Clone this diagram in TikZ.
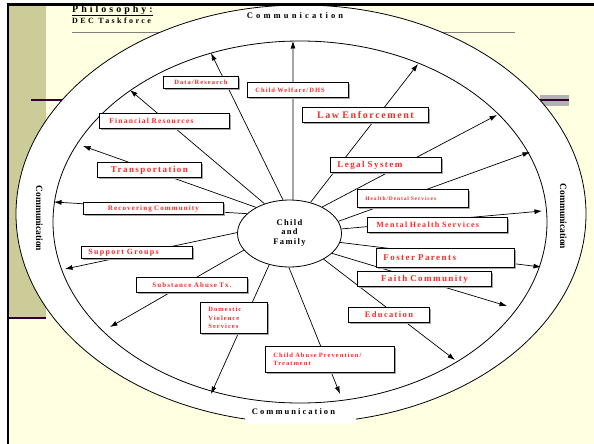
\documentclass[tikz,border=0pt]{standalone}
\usepackage{fontspec}
\setmainfont{Liberation Serif}
\newfontfamily\spacedfont[LetterSpace=16]{Liberation Serif}
\newfontfamily\widefont[LetterSpace=30]{Liberation Serif}
\usetikzlibrary{arrows.meta,shapes.geometric,shadows}
\definecolor{slideyellow}{RGB}{255,255,225}
\definecolor{khaki}{RGB}{204,204,153}
\definecolor{plum}{RGB}{51,0,51}
\definecolor{boxred}{RGB}{255,40,40}
\pgfdeclarelayer{back}
\pgfdeclarelayer{spokes}
\pgfsetlayers{back,spokes,main}
\tikzset{
	box/.style={draw,line width=0.8pt,fill=white,anchor=north west,inner ysep=0pt,align=left,text=boxred,
		drop shadow={shadow xshift=1.5pt,shadow yshift=-1.5pt,fill=black!35,opacity=1},
		font=\spacedfont\bfseries\fontsize{#1}{8.3}\selectfont},
	spoke/.style={line width=0.7pt,-{Latex[length=7.5pt,width=5pt]}},
	comm/.style={inner sep=0pt,font=\bfseries\fontsize{8.5}{10}\selectfont}
}
\begin{document}
\begin{tikzpicture}[x=1pt,y=-1pt]
	\useasboundingbox (0,0) rectangle (594,444);
	% slide background
	\begin{pgfonlayer}{back}
		\fill[white] (0,0) rectangle (594,444);
		\fill[slideyellow] (8,5) rectangle (594,444);
		\fill[khaki] (9,6) rectangle (46,318);
		\draw[plum,line width=2.5pt] (7,318) -- (46,318);
		\draw[plum,line width=2pt] (31,100) -- (62,100);
		\fill[black!30] (540,95) rectangle (569,106);
		\draw[plum,line width=2pt] (540,100) -- (569,100);
		\draw[black!50,line width=0.8pt] (72,32) -- (515,32);
		\draw[line width=0.8pt,fill=white] (301,214) ellipse [x radius=285, y radius=209];
		\draw[line width=0.8pt] (300,222) ellipse [x radius=247, y radius=181];
		\fill[white] (245,405) rectangle (356,424);
		\draw[line width=2.5pt] (7.8,444) |- (594,4.5);
	\end{pgfonlayer}

	\node[anchor=base west,inner sep=0pt,font=\widefont\bfseries\fontsize{10}{12}\selectfont] (title) at (72,13) {Philosophy:};
	\draw[line width=1.1pt] ([yshift=-2.3pt]title.base west) -- ([yshift=-2.3pt]title.base east);
	\node[anchor=base west,inner sep=0pt,font=\widefont\bfseries\fontsize{8}{10}\selectfont] (subtitle) at (72,24) {DEC Taskforce};

	\node[comm,anchor=base] (commtop) at (295,18.5) {\addfontfeatures{LetterSpace=37}Communication};
	\node[comm,anchor=base] (commbottom) at (293.5,414.5) {\addfontfeatures{LetterSpace=24}Communication};
	\node[comm,anchor=base,rotate=-90,font=\bfseries\fontsize{9.5}{11}\selectfont] (commleft) at (36,218.5) {Communication};
	\node[comm,anchor=base,rotate=-90,font=\bfseries\fontsize{9.5}{11}\selectfont] (commright) at (560,216.5) {Communication};

	\node[ellipse,draw,line width=0.8pt,fill=white,minimum width=104pt,minimum height=67pt,inner sep=0pt,align=center,
		font=\spacedfont\bfseries\fontsize{8.5}{9.5}\selectfont] (child) at (289.5,233.5) {\raisebox{3pt}{Child}\\\raisebox{3pt}{and}\\\raisebox{3pt}{Family}};

	\node[box=6.5,text width=67pt,inner xsep=4pt,minimum height=12pt,align=center] (data) at (163,76) {Data/Research};
	\node[box=6.5,text width=85pt,inner xsep=8pt,minimum height=15pt] (welfare) at (247,82) {Child Welfare/DHS};
	\node[box=7.5,text width=110pt,inner xsep=10pt,minimum height=15pt] (finance) at (99,113) {Financial Resources};
	\node[box=10,text width=118pt,inner xsep=4pt,minimum height=15pt,align=center] (law) at (302,107) {Law Enforcement};
	\node[box=9,text width=97pt,inner xsep=7pt,minimum height=15pt] (legal) at (330,157) {Legal System};
	\node[box=9,text width=96pt,inner xsep=4pt,minimum height=15pt,align=center] (transport) at (97,162) {Transportation};
	\node[box=7,text width=132pt,inner xsep=4pt,minimum height=12pt,align=center] (recovery) at (83,202) {Recovering Community};
	\node[box=5.5,text width=95pt,inner xsep=8pt,minimum height=18pt] (health) at (357,189) {Health/Dental Services};
	\node[box=8,text width=122pt,inner xsep=9pt,minimum height=15pt] (mental) at (367,217) {Mental Health Services};
	\node[box=8,text width=97pt,inner xsep=7pt,minimum height=12pt] (support) at (81,246) {Support Groups};
	\node[box=9,text width=124pt,inner xsep=7pt,minimum height=19pt] (foster) at (376,248) {Foster Parents};
	\node[box=9,text width=126pt,inner xsep=4pt,minimum height=15pt,align=center] (faith) at (357,271) {Faith Community};
	\node[box=7,text width=103pt,inner xsep=4pt,minimum height=15pt,align=center] (substance) at (136,277) {Substance Abuse Tx.};
	\node[box=6.5,text width=51pt,inner xsep=8pt,minimum height=31pt] (domestic) at (200,302) {Domestic\\Violence\\Services};
	\node[box=8.5,text width=73pt,inner xsep=4pt,minimum height=15pt,align=center] (education) at (348,307) {Education};
	\node[box=6.5,text width=113pt,inner xsep=8pt,minimum height=26pt] (abuse) at (265,346) {Child~Abuse~Prevention/\\Treatment};

	\coordinate (tdata) at (211,53);
	\coordinate (twelfare) at (293,41);
	\coordinate (tfinance) at (130,90);
	\coordinate (tlaw) at (418,64);
	\coordinate (tlegal) at (497,115);
	\coordinate (thealth) at (530,152);
	\coordinate (tmental) at (542,211);
	\coordinate (trecovery) at (54,202);
	\coordinate (ttransport) at (83,146);
	\coordinate (tsupport) at (65,269);
	\coordinate (tsubstance) at (110,327);
	\coordinate (tdomestic) at (211,394);
	\coordinate (tabuse) at (340,394);
	\coordinate (teducation) at (455,360);
	\coordinate (tfaith) at (507,306);
	\coordinate (tfoster) at (541,267);

	\begin{pgfonlayer}{spokes}
		\draw[spoke] (child.101) -- (tdata);
		\draw[spoke] (child.84) -- (twelfare);
		\draw[spoke] (child.130) -- (tfinance);
		\draw[spoke] (child.56) -- (tlaw);
		\draw[spoke] (child.39) -- (tlegal);
		\draw[spoke] (child.14) -- (thealth);
		\draw[spoke] (child.5) -- (tmental);
		\draw[spoke] (child.155) -- (trecovery);
		\draw[spoke] (child.142) -- (ttransport);
		\draw[spoke] (child.179) -- (tsupport);
		\draw[spoke] (child.200) -- (tsubstance);
		\draw[spoke] (child.237) -- (tdomestic);
		\draw[spoke] (child.269) -- (tabuse);
		\draw[spoke] (child.323) -- (teducation);
		\draw[spoke] (child.335) -- (tfaith);
		\draw[spoke] (child.350) -- (tfoster);
	\end{pgfonlayer}
\end{tikzpicture}
\end{document}
